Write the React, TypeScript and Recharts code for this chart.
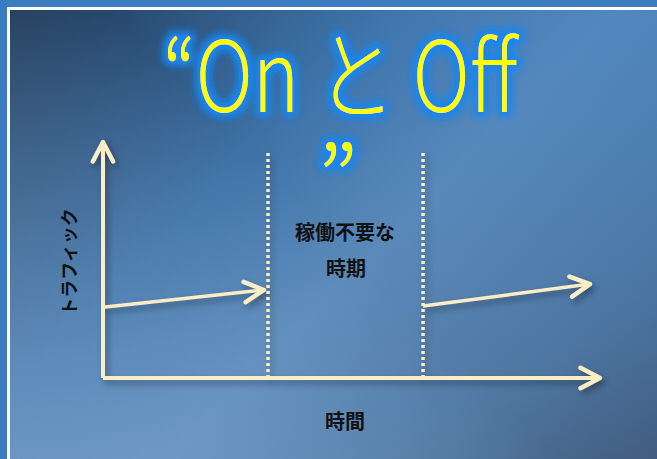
import React from 'react';
import { ComposedChart, Line, XAxis, YAxis } from 'recharts';

// time (x) and traffic (y) both on a 0..100 scale
const timeAxis = [{ x: 0, y: 0 }, { x: 100, y: 0 }];
const trafficAxis = [{ x: 0, y: 0 }, { x: 0, y: 100 }];
const trafficBefore = [{ x: 0, y: 30 }, { x: 32.4, y: 37.3 }];
const trafficAfter = [{ x: 64.4, y: 30.5 }, { x: 98, y: 39.8 }];
const offStart = [{ x: 33.2, y: 0 }, { x: 33.2, y: 95.3 }];
const offEnd = [{ x: 64.4, y: 0 }, { x: 64.4, y: 95.3 }];

const titleLines = ['“On と Off', '”'];
const offLabel = ['稼働不要な', '時期'];
const xLabel = '時間';
const yLabel = 'トラフィック';

const CREAM = '#fbeec6';
const JP = '"Noto Sans CJK JP", "Noto Sans", sans-serif';

const arrowHead = (props: any) => {
  const { cx, cy, index, points } = props;
  if (!points || index !== points.length - 1) return <g key={`d-${index}`} />;
  const prev = points[index - 1];
  const ang = Math.atan2(cy - prev.y, cx - prev.x);
  const len = 22;
  const spread = 0.48;
  const ax = cx - len * Math.cos(ang - spread);
  const ay = cy - len * Math.sin(ang - spread);
  const bx = cx - len * Math.cos(ang + spread);
  const by = cy - len * Math.sin(ang + spread);
  return (
    <path
      key={`d-${index}`}
      d={`M${ax},${ay} L${cx},${cy} L${bx},${by}`}
      fill="none"
      stroke={CREAM}
      strokeWidth={4.5}
      strokeLinecap="round"
      strokeLinejoin="round"
    />
  );
};

export default function App() {
  return (
    <div
      style={{
        position: 'absolute',
        left: 0,
        top: 0,
        width: 657,
        height: 459,
        overflow: 'hidden',
        background: '#3b7bbf',
      }}
    >
      <div
        style={{
          position: 'absolute',
          left: 7,
          top: 7,
          width: 650,
          height: 452,
          borderTop: '3px solid #ffffff',
          borderLeft: '3px solid #ffffff',
          background:
            'linear-gradient(45deg, rgba(150,185,220,0.45) 0%, rgba(120,160,205,0) 50%, rgba(60,130,200,0.35) 100%), linear-gradient(135deg, #1e3856 0%, #3f73a8 35%, #5b8aba 55%, #4f77a0 80%, #42597a 100%)',
        }}
      />
      <div style={{ position: 'absolute', left: 0, top: 0, filter: 'drop-shadow(3px 4px 3px rgba(0,0,0,0.35))' }}>
        <ComposedChart width={657} height={459} margin={{ top: 142, right: 57, bottom: 81, left: 103 }}>
          <XAxis type="number" dataKey="x" domain={[0, 100]} hide allowDuplicatedCategory={false} />
          <YAxis type="number" dataKey="y" domain={[0, 100]} hide />
          <Line data={offStart} dataKey="y" type="linear" stroke={CREAM} strokeWidth={3.5} strokeDasharray="3 3" dot={false} isAnimationActive={false} />
          <Line data={offEnd} dataKey="y" type="linear" stroke={CREAM} strokeWidth={3.5} strokeDasharray="3 3" dot={false} isAnimationActive={false} />
          <Line data={timeAxis} dataKey="y" type="linear" stroke={CREAM} strokeWidth={4} dot={arrowHead} isAnimationActive={false} />
          <Line data={trafficAxis} dataKey="y" type="linear" stroke={CREAM} strokeWidth={4} dot={arrowHead} isAnimationActive={false} />
          <Line data={trafficBefore} dataKey="y" type="linear" stroke={CREAM} strokeWidth={3.5} dot={arrowHead} isAnimationActive={false} />
          <Line data={trafficAfter} dataKey="y" type="linear" stroke={CREAM} strokeWidth={3.5} dot={arrowHead} isAnimationActive={false} />
        </ComposedChart>
      </div>
      <svg width={657} height={459} style={{ position: 'absolute', left: 0, top: 0 }}>
        <defs>
          <filter id="glow" x="-20%" y="-40%" width="140%" height="180%">
            <feMorphology in="SourceAlpha" operator="dilate" radius="2.5" result="d" />
            <feGaussianBlur in="d" stdDeviation="4" result="b" />
            <feFlood floodColor="#1d86f0" floodOpacity="1" />
            <feComposite in2="b" operator="in" result="g" />
            <feMerge>
              <feMergeNode in="g" />
              <feMergeNode in="g" />
              <feMergeNode in="SourceGraphic" />
            </feMerge>
          </filter>
        </defs>
        <text x={163} y={112} textLength={354} lengthAdjust="spacingAndGlyphs" fontSize={98} fontWeight={300} fontFamily={JP} fill="#ffff00" filter="url(#glow)">
          {titleLines[0]}
        </text>
        <text x={338} y={218} textAnchor="middle" fontSize={98} fontWeight={300} fontFamily={JP} fill="#ffff00" filter="url(#glow)">
          {titleLines[1]}
        </text>
        <g fontFamily={JP} fontWeight={700} fill="#111111" textAnchor="middle">
          <text x={345} y={240} fontSize={20}>{offLabel[0]}</text>
          <text x={346} y={276} fontSize={20}>{offLabel[1]}</text>
          <text x={345} y={429} fontSize={20}>{xLabel}</text>
          <text transform="translate(68,262) rotate(-90)" fontSize={18} dominantBaseline="central">{yLabel}</text>
        </g>
      </svg>
    </div>
  );
}
